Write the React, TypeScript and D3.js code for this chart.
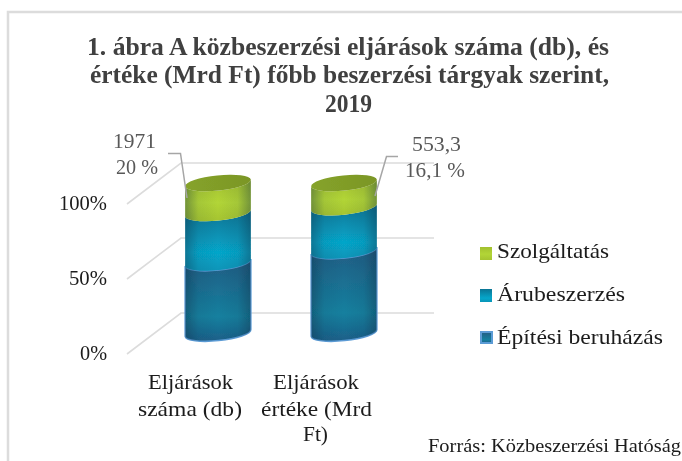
import React from "react";
import * as d3 from "d3";

const categories = ["Eljárások száma (db)", "Eljárások értéke (Mrd Ft)"];
const categoryLines = [["Eljárások", "száma (db)"], ["Eljárások", "értéke (Mrd", "Ft)"]];
const seriesNames = ["Építési beruházás", "Árubeszerzés", "Szolgáltatás"];
const epitesi = [47, 55];
const aru = [33, 28.9];
const szolg = [20, 16.1];
const yTicks = [0, 50, 100];
const dataLabels = [["1971", "20 %"], ["553,3", "16,1 %"]];
const titleLines = [
  "1. ábra A közbeszerzési eljárások száma (db), és",
  "értéke (Mrd Ft) főbb beszerzési tárgyak szerint,",
  "2019",
];
const source = "Forrás: Közbeszerzési Hatóság";

const FONT = "'Liberation Serif', serif";
const RX = 33, RY = 7.6, TILT = 6;
const dx = RX * Math.cos((TILT * Math.PI) / 180);
const dy = RX * Math.sin((TILT * Math.PI) / 180);

const x = d3.scalePoint<string>().domain(categories).range([218, 344]);
const yCyl = d3.scaleLinear().domain([0, 100]).range([333, 183]);
const yWall = d3.scaleLinear().domain([0, 100]).range([313, 163]);
const yFront = d3.scaleLinear().domain([0, 100]).range([354, 204]);

const stacks = d3.stack<number>()
  .keys([0, 1, 2] as any)
  .value((i, k) => [epitesi, aru, szolg][k as any][i])(d3.range(categories.length));

function segPath(cx: number, y0: number, y1: number) {
  const l = cx - dx, r = cx + dx;
  return `M${l},${y0 + dy} A${RX},${RY} ${-TILT} 0 0 ${r},${y0 - dy} L${r},${y1 - dy} A${RX},${RY} ${-TILT} 0 1 ${l},${y1 + dy} Z`;
}

const T = ({ x, y, w, size, fill, bold, children }: any) => (
  <text x={x} y={y} fontFamily={FONT} fontSize={size} fill={fill} fontWeight={bold ? 700 : 400}
    textLength={w} lengthAdjust="spacingAndGlyphs" filter="url(#softText)">{children}</text>
);

const fills = ["url(#gDark)", "url(#gTeal)", "url(#gGreen)"];
const legendY = [332, 289, 247];
const legendBase = [344, 301, 258];
const legendW = [166, 128, 112];
const titlePos: [number, number, number][] = [[87, 55, 522], [90, 83, 519], [325, 112, 47]];
const tickPos: Record<number, [number, number, number]> = { 0: [80, 360, 27], 50: [69, 285, 38], 100: [59, 210, 48] };
const catPos = [
  [[148, 389, 85], [138, 416, 104]],
  [[273, 389, 86], [261, 416, 111], [303, 441, 25]],
];
const labelPos = [
  [[113, 148, 43], [116, 174, 42]],
  [[412, 151, 49], [405, 177, 60]],
];
const leaders = [
  [[168, 153.5], [180.5, 153.5], [187, 198]],
  [[398, 156.5], [386.5, 156.5], [375, 196]],
];
const line = d3.line();

export default function App() {
  return (
    <svg width={682} height={461} style={{ position: "absolute", left: 0, top: 0, background: "#fff" }}>
      <defs>
        <linearGradient id="gGreen" x1="0" y1="0" x2="0" y2="1">
          <stop offset="0" stopColor="#a2c02f" /><stop offset="0.55" stopColor="#b2d537" /><stop offset="1" stopColor="#a5c431" />
        </linearGradient>
        <linearGradient id="gTeal" x1="0" y1="0" x2="0" y2="1">
          <stop offset="0" stopColor="#0a7494" /><stop offset="0.7" stopColor="#06a6ca" /><stop offset="1" stopColor="#0895b8" />
        </linearGradient>
        <linearGradient id="gDark" x1="0" y1="0" x2="0" y2="1">
          <stop offset="0" stopColor="#235d84" /><stop offset="0.7" stopColor="#14809f" /><stop offset="1" stopColor="#1c5f88" />
        </linearGradient>
        <linearGradient id="gEdge" x1="0" y1="0" x2="1" y2="0">
          <stop offset="0" stopColor="#0b2a40" stopOpacity="0.38" />
          <stop offset="0.2" stopColor="#0b2a40" stopOpacity="0.08" />
          <stop offset="0.5" stopColor="#0b2a40" stopOpacity="0" />
          <stop offset="0.8" stopColor="#0b2a40" stopOpacity="0.08" />
          <stop offset="1" stopColor="#0b2a40" stopOpacity="0.38" />
        </linearGradient>
        <linearGradient id="gTop" x1="0" y1="0" x2="1" y2="0">
          <stop offset="0" stopColor="#86a32a" /><stop offset="1" stopColor="#7b9626" />
        </linearGradient>
        <filter id="soft"><feGaussianBlur stdDeviation="0.45" /></filter>
        <filter id="softText" x="-5%" y="-20%" width="110%" height="140%"><feGaussianBlur stdDeviation="0.25" /></filter>
      </defs>

      <path d="M8,461 V12 H682" fill="none" stroke="#dcdcdc" strokeWidth={2.5} />

      {titleLines.map((t, i) => (
        <T key={t} x={titlePos[i][0]} y={titlePos[i][1]} w={titlePos[i][2]} size={25} fill="#404040" bold>{t}</T>
      ))}

      <g stroke="#dcdcdc" strokeWidth={1.6} fill="none">
        {yTicks.map((t) => (
          <path key={t} d={`M127,${yFront(t)} L181,${yWall(t)} H434`} />
        ))}
      </g>

      {yTicks.map((t) => (
        <T key={t} x={tickPos[t][0]} y={tickPos[t][1]} w={tickPos[t][2]} size={21} fill="#1a1a1a">{`${t}%`}</T>
      ))}

      <g filter="url(#soft)">
        {categories.map((c, i) => {
          const cx = x(c)!;
          const topV = stacks[2][i][1];
          return (
            <g key={c}>
              {stacks.map((s, k) => {
                const d = segPath(cx, yCyl(s[i][0]), yCyl(s[i][1]));
                return (
                  <g key={k}>
                    <path d={d} fill={fills[k]} stroke={k === 0 ? "#5b9bd5" : "none"} strokeWidth={k === 0 ? 1.6 : 0} />
                    <path d={d} fill="url(#gEdge)" />
                  </g>
                );
              })}
              <ellipse cx={cx} cy={yCyl(topV)} rx={RX} ry={RY} fill="url(#gTop)"
                transform={`rotate(${-TILT} ${cx} ${yCyl(topV)})`} />
            </g>
          );
        })}
      </g>

      {leaders.map((p, i) => (
        <path key={i} d={line(p as [number, number][])!} fill="none" stroke="#a6a6a6" strokeWidth={1.5} />
      ))}
      {dataLabels.map((ls, i) =>
        ls.map((t, j) => (
          <T key={t} x={labelPos[i][j][0]} y={labelPos[i][j][1]} w={labelPos[i][j][2]} size={21} fill="#595959">{t}</T>
        ))
      )}

      {categoryLines.map((ls, i) =>
        ls.map((t, j) => (
          <T key={i + t} x={catPos[i][j][0]} y={catPos[i][j][1]} w={catPos[i][j][2]} size={22} fill="#1a1a1a">{t}</T>
        ))
      )}

      {seriesNames.map((n, k) => (
        <g key={n}>
          <rect x={k === 0 ? 481 : 480} y={legendY[k]} width={k === 0 ? 11 : 12} height={k === 0 ? 11 : 13}
            fill={fills[k]} stroke={k === 0 ? "#5b9bd5" : "none"} strokeWidth={k === 0 ? 2 : 0} />
          <T x={497} y={legendBase[k]} w={legendW[k]} size={22} fill="#1a1a1a">{n}</T>
        </g>
      ))}

      <T x={428} y={452} w={253} size={18} fill="#1a1a1a">{source}</T>
    </svg>
  );
}
